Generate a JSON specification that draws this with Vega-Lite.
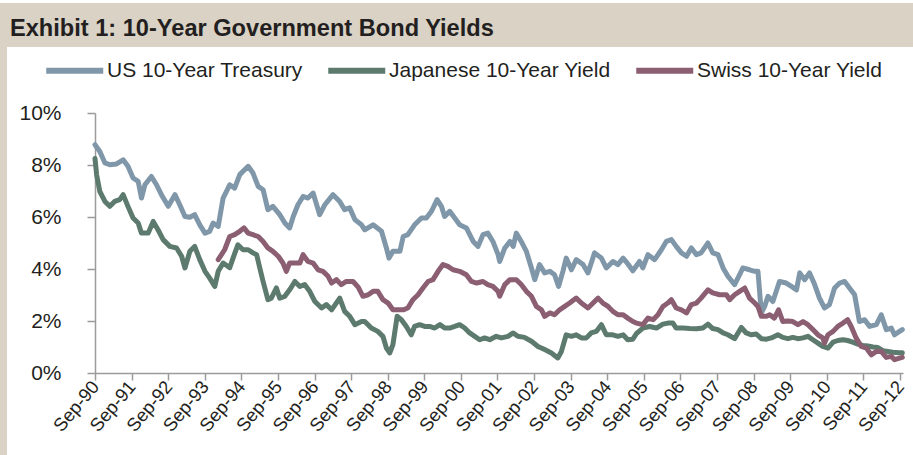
{
  "$schema": "https://vega.github.io/schema/vega-lite/v6.json",
  "padding": {"top": 3, "left": 0, "right": 0, "bottom": 0},
  "background": "white",
  "config": {"font": "Liberation Sans", "view": {"stroke": null}},
  "datasets": {
    "us": [
      {"d": "1990-09-01", "v": 8.78}, {"d": "1990-10-19", "v": 8.52}, {"d": "1990-12-09", "v": 8.08}, {"d": "1991-01-27", "v": 8.01},
      {"d": "1991-04-04", "v": 8.04}, {"d": "1991-06-09", "v": 8.2}, {"d": "1991-07-27", "v": 7.95}, {"d": "1991-09-16", "v": 7.5},
      {"d": "1991-11-06", "v": 7.37}, {"d": "1991-12-09", "v": 6.73}, {"d": "1992-01-12", "v": 7.24}, {"d": "1992-03-17", "v": 7.56},
      {"d": "1992-05-07", "v": 7.24}, {"d": "1992-06-25", "v": 6.86}, {"d": "1992-09-01", "v": 6.41}, {"d": "1992-11-07", "v": 6.86},
      {"d": "1992-12-25", "v": 6.47}, {"d": "1993-02-15", "v": 6.02}, {"d": "1993-04-05", "v": 5.99}, {"d": "1993-05-23", "v": 6.09},
      {"d": "1993-07-13", "v": 5.7}, {"d": "1993-09-03", "v": 5.38}, {"d": "1993-10-20", "v": 5.45}, {"d": "1993-11-23", "v": 5.77},
      {"d": "1994-01-13", "v": 5.64}, {"d": "1994-03-03", "v": 6.73}, {"d": "1994-05-08", "v": 7.24}, {"d": "1994-06-26", "v": 7.11},
      {"d": "1994-08-16", "v": 7.63}, {"d": "1994-11-08", "v": 7.95}, {"d": "1994-12-26", "v": 7.69}, {"d": "1995-02-16", "v": 7.18},
      {"d": "1995-04-06", "v": 7.05}, {"d": "1995-05-24", "v": 6.28}, {"d": "1995-07-13", "v": 6.41}, {"d": "1995-09-19", "v": 6.09},
      {"d": "1995-11-09", "v": 5.77}, {"d": "1995-12-27", "v": 5.58}, {"d": "1996-02-01", "v": 6.02}, {"d": "1996-03-19", "v": 6.47},
      {"d": "1996-05-09", "v": 6.79}, {"d": "1996-06-27", "v": 6.73}, {"d": "1996-08-17", "v": 6.92}, {"d": "1996-10-22", "v": 6.09},
      {"d": "1996-12-12", "v": 6.47}, {"d": "1997-03-04", "v": 6.86}, {"d": "1997-05-10", "v": 6.6}, {"d": "1997-06-28", "v": 6.28},
      {"d": "1997-08-18", "v": 6.35}, {"d": "1997-10-08", "v": 5.9}, {"d": "1997-12-13", "v": 5.7}, {"d": "1998-01-15", "v": 5.51},
      {"d": "1998-04-08", "v": 5.7}, {"d": "1998-07-01", "v": 5.45}, {"d": "1998-08-19", "v": 4.81}, {"d": "1998-09-14", "v": 4.42},
      {"d": "1998-10-23", "v": 4.68}, {"d": "1999-01-01", "v": 4.68}, {"d": "1999-02-03", "v": 5.25}, {"d": "1999-03-21", "v": 5.32},
      {"d": "1999-05-27", "v": 5.7}, {"d": "1999-08-04", "v": 5.96}, {"d": "1999-09-22", "v": 5.96}, {"d": "1999-11-12", "v": 6.22},
      {"d": "2000-01-07", "v": 6.67}, {"d": "2000-02-19", "v": 6.41}, {"d": "2000-03-22", "v": 6.02}, {"d": "2000-05-12", "v": 6.22},
      {"d": "2000-07-01", "v": 5.96}, {"d": "2000-08-19", "v": 5.7}, {"d": "2000-10-25", "v": 5.58}, {"d": "2001-01-01", "v": 5.06},
      {"d": "2001-02-19", "v": 4.87}, {"d": "2001-04-09", "v": 5.32}, {"d": "2001-05-27", "v": 5.38}, {"d": "2001-07-17", "v": 5.06},
      {"d": "2001-09-07", "v": 4.55}, {"d": "2001-09-23", "v": 4.29}, {"d": "2001-11-13", "v": 4.81}, {"d": "2002-01-03", "v": 5.06},
      {"d": "2002-02-05", "v": 4.87}, {"d": "2002-03-08", "v": 5.38}, {"d": "2002-04-26", "v": 5.06}, {"d": "2002-06-16", "v": 4.68},
      {"d": "2002-08-06", "v": 4.04}, {"d": "2002-09-08", "v": 3.59}, {"d": "2002-10-26", "v": 4.17}, {"d": "2002-12-16", "v": 3.85},
      {"d": "2003-02-06", "v": 3.91}, {"d": "2003-03-24", "v": 3.78}, {"d": "2003-05-04", "v": 3.33}, {"d": "2003-06-16", "v": 3.91},
      {"d": "2003-07-19", "v": 4.42}, {"d": "2003-09-09", "v": 3.97}, {"d": "2003-10-27", "v": 4.36}, {"d": "2004-01-03", "v": 4.17},
      {"d": "2004-02-21", "v": 3.85}, {"d": "2004-04-27", "v": 4.62}, {"d": "2004-07-04", "v": 4.42}, {"d": "2004-08-22", "v": 4.04},
      {"d": "2004-10-27", "v": 4.29}, {"d": "2004-12-16", "v": 4.17}, {"d": "2005-02-06", "v": 4.42}, {"d": "2005-03-24", "v": 4.2},
      {"d": "2005-05-14", "v": 3.93}, {"d": "2005-07-20", "v": 4.29}, {"d": "2005-08-22", "v": 4.04}, {"d": "2005-10-12", "v": 4.55},
      {"d": "2005-12-18", "v": 4.36}, {"d": "2006-02-23", "v": 4.74}, {"d": "2006-04-13", "v": 5.06}, {"d": "2006-06-03", "v": 5.13},
      {"d": "2006-07-21", "v": 4.87}, {"d": "2006-09-11", "v": 4.62}, {"d": "2006-11-01", "v": 4.49}, {"d": "2006-12-19", "v": 4.81},
      {"d": "2007-02-08", "v": 4.55}, {"d": "2007-03-26", "v": 4.62}, {"d": "2007-06-03", "v": 5.0}, {"d": "2007-07-21", "v": 4.62},
      {"d": "2007-09-11", "v": 4.55}, {"d": "2007-11-01", "v": 4.04}, {"d": "2007-12-19", "v": 3.72}, {"d": "2008-02-24", "v": 3.4},
      {"d": "2008-04-14", "v": 3.78}, {"d": "2008-05-16", "v": 4.04}, {"d": "2008-07-22", "v": 3.97}, {"d": "2008-09-12", "v": 3.91},
      {"d": "2008-10-14", "v": 3.91}, {"d": "2008-11-17", "v": 2.31}, {"d": "2008-12-19", "v": 2.55}, {"d": "2009-01-22", "v": 2.95},
      {"d": "2009-03-12", "v": 2.75}, {"d": "2009-05-17", "v": 3.52}, {"d": "2009-07-23", "v": 3.46}, {"d": "2009-09-13", "v": 3.33},
      {"d": "2009-11-03", "v": 3.2}, {"d": "2009-12-05", "v": 3.85}, {"d": "2010-01-23", "v": 3.59}, {"d": "2010-03-13", "v": 3.85},
      {"d": "2010-05-03", "v": 3.4}, {"d": "2010-06-20", "v": 2.88}, {"d": "2010-08-10", "v": 2.5}, {"d": "2010-09-28", "v": 2.63},
      {"d": "2010-11-18", "v": 3.27}, {"d": "2011-01-08", "v": 3.46}, {"d": "2011-02-26", "v": 3.52}, {"d": "2011-04-16", "v": 3.27},
      {"d": "2011-06-06", "v": 3.01}, {"d": "2011-07-24", "v": 1.98}, {"d": "2011-09-14", "v": 2.05}, {"d": "2011-11-03", "v": 1.79},
      {"d": "2012-01-09", "v": 1.86}, {"d": "2012-02-27", "v": 2.24}, {"d": "2012-04-17", "v": 1.67}, {"d": "2012-06-06", "v": 1.73},
      {"d": "2012-07-09", "v": 1.47}, {"d": "2012-08-27", "v": 1.6}, {"d": "2012-09-24", "v": 1.67}
    ],
    "jp": [
      {"d": "1990-09-01", "v": 8.25}, {"d": "1990-09-17", "v": 7.63}, {"d": "1990-10-19", "v": 6.98}, {"d": "1990-12-09", "v": 6.6},
      {"d": "1991-01-27", "v": 6.41}, {"d": "1991-03-16", "v": 6.6}, {"d": "1991-05-06", "v": 6.67}, {"d": "1991-06-09", "v": 6.86},
      {"d": "1991-07-27", "v": 6.41}, {"d": "1991-09-16", "v": 5.96}, {"d": "1991-11-06", "v": 5.77}, {"d": "1991-12-09", "v": 5.38},
      {"d": "1992-02-14", "v": 5.38}, {"d": "1992-04-04", "v": 5.83}, {"d": "1992-05-22", "v": 5.51}, {"d": "1992-07-12", "v": 5.13},
      {"d": "1992-09-17", "v": 4.87}, {"d": "1992-11-23", "v": 4.81}, {"d": "1993-01-13", "v": 4.49}, {"d": "1993-02-15", "v": 4.04},
      {"d": "1993-04-05", "v": 4.68}, {"d": "1993-05-23", "v": 4.87}, {"d": "1993-07-13", "v": 4.36}, {"d": "1993-09-03", "v": 3.91},
      {"d": "1993-10-20", "v": 3.65}, {"d": "1993-12-10", "v": 3.33}, {"d": "1994-01-13", "v": 3.91}, {"d": "1994-03-03", "v": 4.23},
      {"d": "1994-05-08", "v": 4.05}, {"d": "1994-06-10", "v": 4.42}, {"d": "1994-07-28", "v": 4.93}, {"d": "1994-09-18", "v": 4.74},
      {"d": "1994-11-08", "v": 4.74}, {"d": "1994-12-26", "v": 4.62}, {"d": "1995-02-01", "v": 4.55}, {"d": "1995-03-04", "v": 4.04},
      {"d": "1995-04-06", "v": 3.52}, {"d": "1995-05-24", "v": 2.82}, {"d": "1995-06-27", "v": 2.88}, {"d": "1995-08-17", "v": 3.27},
      {"d": "1995-09-19", "v": 2.88}, {"d": "1995-11-09", "v": 2.95}, {"d": "1995-12-27", "v": 3.2}, {"d": "1996-02-17", "v": 3.52},
      {"d": "1996-04-07", "v": 3.33}, {"d": "1996-05-25", "v": 3.4}, {"d": "1996-07-14", "v": 3.14}, {"d": "1996-09-04", "v": 2.75},
      {"d": "1996-11-10", "v": 2.5}, {"d": "1996-12-28", "v": 2.63}, {"d": "1997-02-18", "v": 2.43}, {"d": "1997-05-10", "v": 2.88},
      {"d": "1997-06-28", "v": 2.37}, {"d": "1997-08-18", "v": 2.18}, {"d": "1997-10-08", "v": 1.86}, {"d": "1997-12-13", "v": 1.98},
      {"d": "1998-01-15", "v": 1.98}, {"d": "1998-03-21", "v": 1.73}, {"d": "1998-05-25", "v": 1.6}, {"d": "1998-07-15", "v": 1.41},
      {"d": "1998-08-19", "v": 0.96}, {"d": "1998-09-21", "v": 0.77}, {"d": "1998-10-23", "v": 1.09}, {"d": "1998-12-04", "v": 2.18},
      {"d": "1999-01-16", "v": 2.05}, {"d": "1999-03-06", "v": 1.79}, {"d": "1999-04-24", "v": 1.47}, {"d": "1999-05-27", "v": 1.79},
      {"d": "1999-07-16", "v": 1.86}, {"d": "1999-09-06", "v": 1.79}, {"d": "1999-10-24", "v": 1.79}, {"d": "1999-12-14", "v": 1.73},
      {"d": "2000-02-04", "v": 1.86}, {"d": "2000-03-22", "v": 1.73}, {"d": "2000-05-12", "v": 1.73}, {"d": "2000-07-01", "v": 1.79},
      {"d": "2000-08-19", "v": 1.86}, {"d": "2000-10-09", "v": 1.73}, {"d": "2000-11-27", "v": 1.54}, {"d": "2001-01-17", "v": 1.41},
      {"d": "2001-03-07", "v": 1.28}, {"d": "2001-04-25", "v": 1.35}, {"d": "2001-06-15", "v": 1.28}, {"d": "2001-08-20", "v": 1.41},
      {"d": "2001-10-10", "v": 1.35}, {"d": "2001-12-15", "v": 1.41}, {"d": "2002-02-05", "v": 1.54}, {"d": "2002-03-23", "v": 1.41},
      {"d": "2002-05-28", "v": 1.37}, {"d": "2002-08-06", "v": 1.22}, {"d": "2002-10-10", "v": 1.02}, {"d": "2002-12-16", "v": 0.9},
      {"d": "2003-02-21", "v": 0.77}, {"d": "2003-04-26", "v": 0.58}, {"d": "2003-06-01", "v": 0.83}, {"d": "2003-07-19", "v": 1.47},
      {"d": "2003-09-09", "v": 1.41}, {"d": "2003-10-27", "v": 1.47}, {"d": "2003-12-17", "v": 1.35}, {"d": "2004-02-06", "v": 1.35},
      {"d": "2004-03-24", "v": 1.54}, {"d": "2004-05-14", "v": 1.6}, {"d": "2004-07-04", "v": 1.86}, {"d": "2004-08-22", "v": 1.47},
      {"d": "2004-10-27", "v": 1.47}, {"d": "2004-12-16", "v": 1.41}, {"d": "2005-02-06", "v": 1.47}, {"d": "2005-03-24", "v": 1.28},
      {"d": "2005-05-14", "v": 1.3}, {"d": "2005-06-18", "v": 1.51}, {"d": "2005-08-22", "v": 1.73}, {"d": "2005-10-28", "v": 1.79},
      {"d": "2006-01-05", "v": 1.73}, {"d": "2006-03-10", "v": 1.88}, {"d": "2006-04-28", "v": 1.92}, {"d": "2006-06-18", "v": 1.92},
      {"d": "2006-07-21", "v": 1.73}, {"d": "2006-09-26", "v": 1.73}, {"d": "2006-12-03", "v": 1.71}, {"d": "2007-02-08", "v": 1.7},
      {"d": "2007-04-13", "v": 1.73}, {"d": "2007-06-03", "v": 1.88}, {"d": "2007-07-21", "v": 1.71}, {"d": "2007-09-11", "v": 1.67},
      {"d": "2007-11-01", "v": 1.54}, {"d": "2007-12-19", "v": 1.47}, {"d": "2008-02-24", "v": 1.32}, {"d": "2008-05-01", "v": 1.75},
      {"d": "2008-06-19", "v": 1.54}, {"d": "2008-08-09", "v": 1.47}, {"d": "2008-09-27", "v": 1.5}, {"d": "2008-11-17", "v": 1.32},
      {"d": "2009-01-07", "v": 1.3}, {"d": "2009-02-25", "v": 1.35}, {"d": "2009-05-01", "v": 1.47}, {"d": "2009-06-19", "v": 1.37},
      {"d": "2009-08-09", "v": 1.32}, {"d": "2009-09-27", "v": 1.37}, {"d": "2009-11-17", "v": 1.32}, {"d": "2010-01-07", "v": 1.35},
      {"d": "2010-02-25", "v": 1.41}, {"d": "2010-04-15", "v": 1.28}, {"d": "2010-06-05", "v": 1.15}, {"d": "2010-07-23", "v": 1.02},
      {"d": "2010-09-13", "v": 0.96}, {"d": "2010-11-03", "v": 1.19}, {"d": "2010-12-20", "v": 1.25}, {"d": "2011-02-10", "v": 1.28},
      {"d": "2011-03-28", "v": 1.25}, {"d": "2011-05-18", "v": 1.19}, {"d": "2011-07-08", "v": 1.11}, {"d": "2011-08-26", "v": 1.06},
      {"d": "2011-10-16", "v": 1.04}, {"d": "2011-12-06", "v": 1.0}, {"d": "2012-01-24", "v": 0.98}, {"d": "2012-03-14", "v": 0.86},
      {"d": "2012-05-04", "v": 0.83}, {"d": "2012-06-21", "v": 0.8}, {"d": "2012-08-27", "v": 0.78}, {"d": "2012-09-24", "v": 0.78}
    ],
    "ch": [
      {"d": "1994-01-13", "v": 4.36}, {"d": "1994-03-18", "v": 4.74}, {"d": "1994-05-08", "v": 5.25}, {"d": "1994-06-26", "v": 5.32},
      {"d": "1994-08-16", "v": 5.45}, {"d": "1994-09-27", "v": 5.58}, {"d": "1994-11-08", "v": 5.38}, {"d": "1994-12-26", "v": 5.32},
      {"d": "1995-02-16", "v": 5.25}, {"d": "1995-04-06", "v": 5.06}, {"d": "1995-05-24", "v": 4.81}, {"d": "1995-07-13", "v": 4.68},
      {"d": "1995-09-04", "v": 4.49}, {"d": "1995-10-21", "v": 4.23}, {"d": "1995-11-24", "v": 3.91}, {"d": "1995-12-27", "v": 4.23},
      {"d": "1996-02-17", "v": 4.23}, {"d": "1996-04-07", "v": 4.23}, {"d": "1996-05-09", "v": 4.55}, {"d": "1996-06-27", "v": 4.29},
      {"d": "1996-08-17", "v": 4.23}, {"d": "1996-10-06", "v": 3.97}, {"d": "1996-11-24", "v": 3.91}, {"d": "1997-01-14", "v": 3.72},
      {"d": "1997-02-18", "v": 3.46}, {"d": "1997-04-08", "v": 3.59}, {"d": "1997-05-25", "v": 3.4}, {"d": "1997-07-15", "v": 3.52},
      {"d": "1997-09-20", "v": 3.52}, {"d": "1997-11-10", "v": 3.3}, {"d": "1997-12-28", "v": 2.95}, {"d": "1998-02-18", "v": 3.01},
      {"d": "1998-04-08", "v": 3.14}, {"d": "1998-05-25", "v": 3.14}, {"d": "1998-07-15", "v": 2.82}, {"d": "1998-09-05", "v": 2.69},
      {"d": "1998-10-23", "v": 2.43}, {"d": "1998-12-13", "v": 2.43}, {"d": "1999-02-03", "v": 2.43}, {"d": "1999-03-21", "v": 2.5},
      {"d": "1999-05-11", "v": 2.82}, {"d": "1999-07-01", "v": 3.01}, {"d": "1999-08-19", "v": 3.27}, {"d": "1999-10-09", "v": 3.52},
      {"d": "1999-11-27", "v": 3.59}, {"d": "2000-01-17", "v": 3.91}, {"d": "2000-03-06", "v": 4.17}, {"d": "2000-04-24", "v": 4.1},
      {"d": "2000-06-14", "v": 3.97}, {"d": "2000-08-19", "v": 3.91}, {"d": "2000-10-25", "v": 3.78}, {"d": "2000-12-15", "v": 3.52},
      {"d": "2001-02-05", "v": 3.46}, {"d": "2001-04-09", "v": 3.52}, {"d": "2001-05-27", "v": 3.4}, {"d": "2001-07-17", "v": 3.33},
      {"d": "2001-09-07", "v": 3.14}, {"d": "2001-09-23", "v": 2.95}, {"d": "2001-11-13", "v": 3.4}, {"d": "2002-01-03", "v": 3.59},
      {"d": "2002-03-08", "v": 3.59}, {"d": "2002-04-26", "v": 3.4}, {"d": "2002-06-16", "v": 3.14}, {"d": "2002-08-06", "v": 2.95},
      {"d": "2002-09-24", "v": 2.56}, {"d": "2002-11-14", "v": 2.43}, {"d": "2002-12-16", "v": 2.18}, {"d": "2003-02-06", "v": 2.31},
      {"d": "2003-03-24", "v": 2.24}, {"d": "2003-05-14", "v": 2.43}, {"d": "2003-07-04", "v": 2.56}, {"d": "2003-08-22", "v": 2.69},
      {"d": "2003-10-27", "v": 2.88}, {"d": "2003-12-17", "v": 2.69}, {"d": "2004-02-21", "v": 2.5}, {"d": "2004-04-12", "v": 2.69},
      {"d": "2004-06-01", "v": 2.88}, {"d": "2004-07-19", "v": 2.69}, {"d": "2004-09-09", "v": 2.56}, {"d": "2004-10-27", "v": 2.37},
      {"d": "2004-12-16", "v": 2.24}, {"d": "2005-02-06", "v": 2.24}, {"d": "2005-03-24", "v": 2.11}, {"d": "2005-05-14", "v": 1.98},
      {"d": "2005-06-18", "v": 1.92}, {"d": "2005-08-22", "v": 1.86}, {"d": "2005-10-12", "v": 2.11}, {"d": "2005-12-02", "v": 2.05},
      {"d": "2006-01-20", "v": 2.24}, {"d": "2006-03-10", "v": 2.56}, {"d": "2006-04-28", "v": 2.69}, {"d": "2006-06-03", "v": 2.82},
      {"d": "2006-07-21", "v": 2.5}, {"d": "2006-09-11", "v": 2.43}, {"d": "2006-11-01", "v": 2.31}, {"d": "2006-12-19", "v": 2.63},
      {"d": "2007-02-08", "v": 2.69}, {"d": "2007-03-26", "v": 2.88}, {"d": "2007-06-03", "v": 3.2}, {"d": "2007-07-21", "v": 3.08},
      {"d": "2007-09-27", "v": 3.01}, {"d": "2007-12-04", "v": 3.01}, {"d": "2008-01-06", "v": 2.82}, {"d": "2008-02-24", "v": 3.01},
      {"d": "2008-04-14", "v": 3.14}, {"d": "2008-06-04", "v": 3.27}, {"d": "2008-07-22", "v": 2.88}, {"d": "2008-09-12", "v": 2.69},
      {"d": "2008-10-14", "v": 2.56}, {"d": "2008-11-17", "v": 2.18}, {"d": "2009-01-07", "v": 2.18}, {"d": "2009-02-09", "v": 2.24},
      {"d": "2009-03-27", "v": 2.11}, {"d": "2009-05-08", "v": 2.43}, {"d": "2009-06-19", "v": 1.98}, {"d": "2009-08-09", "v": 2.0},
      {"d": "2009-09-27", "v": 1.98}, {"d": "2009-11-17", "v": 1.86}, {"d": "2010-01-07", "v": 1.98}, {"d": "2010-02-25", "v": 1.86},
      {"d": "2010-04-15", "v": 1.67}, {"d": "2010-06-05", "v": 1.47}, {"d": "2010-07-23", "v": 1.35}, {"d": "2010-08-10", "v": 1.15},
      {"d": "2010-09-13", "v": 1.47}, {"d": "2010-11-03", "v": 1.6}, {"d": "2010-12-20", "v": 1.79}, {"d": "2011-02-10", "v": 1.92},
      {"d": "2011-03-28", "v": 2.05}, {"d": "2011-05-03", "v": 1.79}, {"d": "2011-06-21", "v": 1.35}, {"d": "2011-08-11", "v": 1.02},
      {"d": "2011-10-01", "v": 0.96}, {"d": "2011-11-19", "v": 0.7}, {"d": "2012-01-09", "v": 0.83}, {"d": "2012-02-27", "v": 0.83},
      {"d": "2012-04-17", "v": 0.6}, {"d": "2012-06-06", "v": 0.64}, {"d": "2012-07-09", "v": 0.51}, {"d": "2012-08-27", "v": 0.57},
      {"d": "2012-09-24", "v": 0.6}
    ]
  },
  "spacing": 0,
  "vconcat": [
    {
      "width": 913,
      "height": 44,
      "view": {"fill": "#d9d2c5", "stroke": null},
      "title": {
        "text": "Exhibit 1: 10-Year Government Bond Yields",
        "anchor": "start", "frame": "group", "orient": "top",
        "offset": -57, "baseline": "alphabetic", "dx": 10,
        "font": "Liberation Sans", "fontSize": 23.6, "fontWeight": "bold", "color": "#231f20"
      },
      "data": {"values": [{}]},
      "mark": {"type": "rect", "opacity": 0}
    },
    {
      "spacing": 0,
      "hconcat": [
        {
          "width": 7,
          "height": 408,
          "view": {"fill": "#d9d2c5", "stroke": null},
          "data": {"values": [{}]},
          "mark": {"type": "rect", "opacity": 0}
        },
        {
          "width": 906,
          "height": 408,
          "encoding": {
            "x": {
              "field": "d", "type": "temporal",
              "scale": {
                "type": "utc", "nice": false, "range": [88, 896],
                "domain": [{"year": 1990, "month": 9, "date": 1, "utc": true}, {"year": 2012, "month": 10, "date": 1, "utc": true}]
              },
              "axis": {
                "title": null, "grid": false, "offset": -82,
                "values": [
                  {"year": 1990, "month": 9, "date": 1, "utc": true}, {"year": 1991, "month": 9, "date": 1, "utc": true},
                  {"year": 1992, "month": 9, "date": 1, "utc": true}, {"year": 1993, "month": 9, "date": 1, "utc": true},
                  {"year": 1994, "month": 9, "date": 1, "utc": true}, {"year": 1995, "month": 9, "date": 1, "utc": true},
                  {"year": 1996, "month": 9, "date": 1, "utc": true}, {"year": 1997, "month": 9, "date": 1, "utc": true},
                  {"year": 1998, "month": 9, "date": 1, "utc": true}, {"year": 1999, "month": 9, "date": 1, "utc": true},
                  {"year": 2000, "month": 9, "date": 1, "utc": true}, {"year": 2001, "month": 9, "date": 1, "utc": true},
                  {"year": 2002, "month": 9, "date": 1, "utc": true}, {"year": 2003, "month": 9, "date": 1, "utc": true},
                  {"year": 2004, "month": 9, "date": 1, "utc": true}, {"year": 2005, "month": 9, "date": 1, "utc": true},
                  {"year": 2006, "month": 9, "date": 1, "utc": true}, {"year": 2007, "month": 9, "date": 1, "utc": true},
                  {"year": 2008, "month": 9, "date": 1, "utc": true}, {"year": 2009, "month": 9, "date": 1, "utc": true},
                  {"year": 2010, "month": 9, "date": 1, "utc": true}, {"year": 2011, "month": 9, "date": 1, "utc": true},
                  {"year": 2012, "month": 9, "date": 1, "utc": true}
                ],
                "labelExpr": "utcFormat(datum.value, '%b-%y')",
                "labelAngle": -50, "labelAlign": "right", "labelBaseline": "middle",
                "labelFont": "Liberation Sans", "labelFontSize": 18.5, "labelColor": "#231f20",
                "labelPadding": 3, "labelOverlap": false, "labelFlush": false, "labelBound": false,
                "tickSize": 7, "tickColor": "#9b9b9b", "tickWidth": 1.5,
                "domainColor": "#9b9b9b", "domainWidth": 1.5
              }
            },
            "y": {
              "field": "v", "type": "quantitative",
              "scale": {"domain": [0, 10], "range": [326, 66], "nice": false, "zero": true},
              "axis": {
                "title": null, "grid": false, "offset": -88,
                "values": [0, 2, 4, 6, 8, 10],
                "labelExpr": "datum.value + '%'",
                "labelFont": "Liberation Sans", "labelFontSize": 21, "labelColor": "#231f20",
                "labelPadding": 26,
                "tickSize": 8, "tickColor": "#9b9b9b", "tickWidth": 1.5,
                "domainColor": "#9b9b9b", "domainWidth": 1.5
              }
            }
          },
          "layer": [
            {
              "data": {"name": "us"},
              "mark": {"type": "line", "strokeWidth": 5, "strokeJoin": "round", "strokeCap": "round"},
              "encoding": {
                "color": {
                  "datum": "US 10-Year Treasury",
                  "scale": {
                    "domain": ["US 10-Year Treasury", "Japanese 10-Year Yield", "Swiss 10-Year Yield"],
                    "range": ["#7f97a9", "#5d7a6e", "#8b5e72"]
                  },
                  "legend": {
                    "title": null, "orient": "none", "legendX": 43, "legendY": 50, "direction": "horizontal",
                    "symbolType": "M-1,0L3,0", "symbolSize": 812, "symbolStrokeWidth": 6,
                    "labelFont": "Liberation Sans", "labelFontSize": 21, "labelColor": "#231f20",
                    "labelLimit": 400, "labelOffset": 29, "columnPadding": 13
                  }
                }
              }
            },
            {
              "data": {"name": "jp"},
              "mark": {"type": "line", "strokeWidth": 5, "strokeJoin": "round", "strokeCap": "round"},
              "encoding": {"color": {"datum": "Japanese 10-Year Yield"}}
            },
            {
              "data": {"name": "ch"},
              "mark": {"type": "line", "strokeWidth": 5, "strokeJoin": "round", "strokeCap": "round"},
              "encoding": {"color": {"datum": "Swiss 10-Year Yield"}}
            }
          ]
        }
      ]
    }
  ]
}
